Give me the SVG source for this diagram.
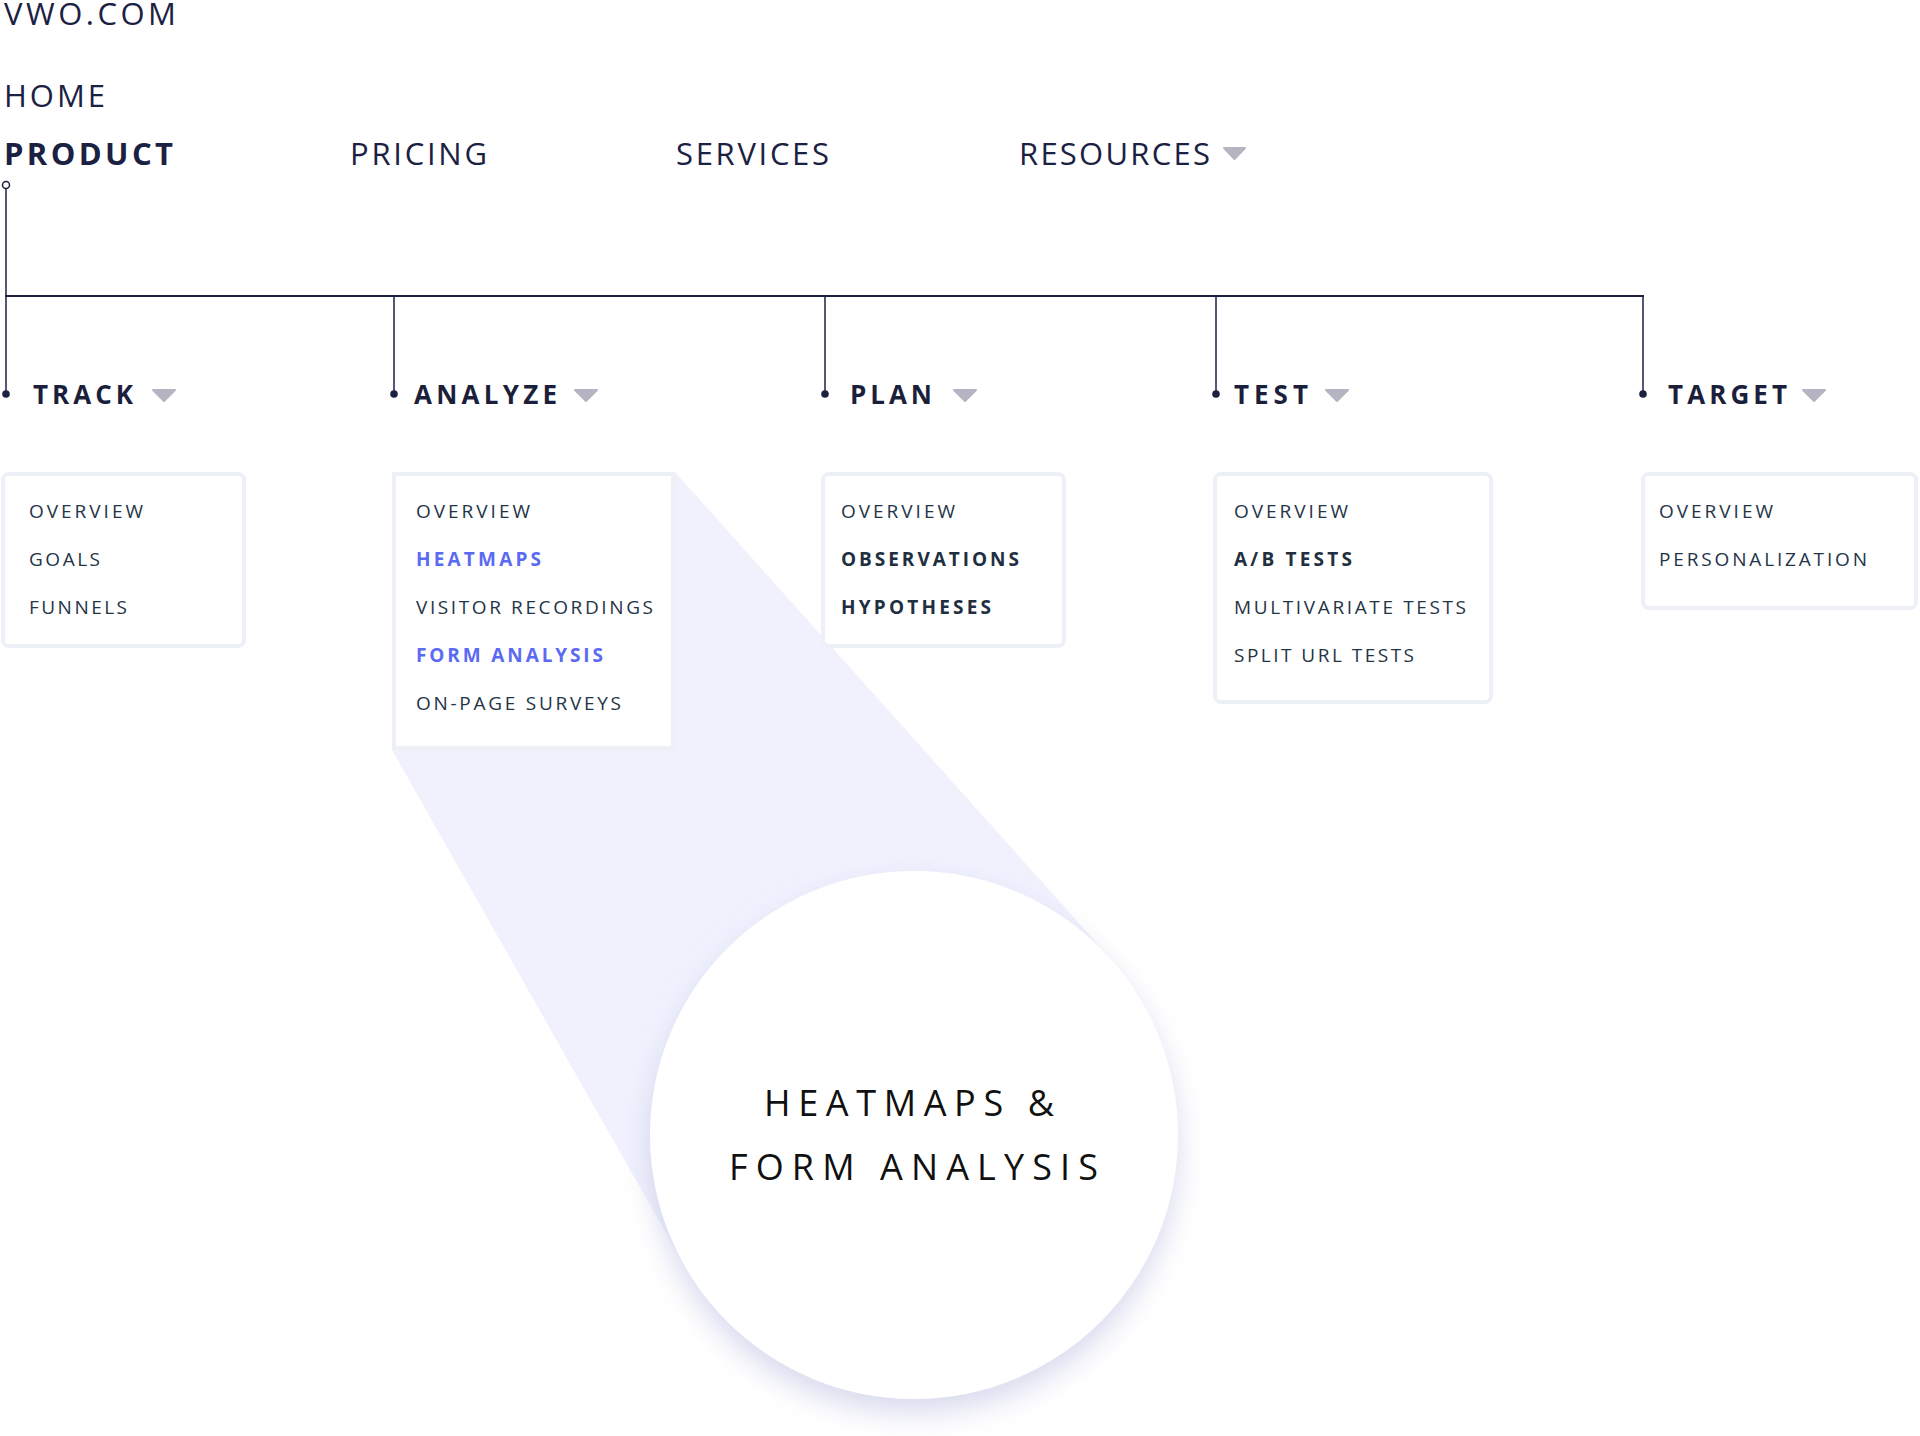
<svg xmlns="http://www.w3.org/2000/svg" width="1920" height="1436" viewBox="0 0 1920 1436">
<style>
text{font-family:"Open Sans","Liberation Sans",sans-serif;}
.nav{font-size:31px;fill:#1b2142;}
.navb{font-size:31px;fill:#1b2142;font-weight:700;}
.head{font-size:26px;fill:#1b1f3b;font-weight:700;}
.item{font-size:19px;fill:#243447;}
.itemb{font-size:19px;fill:#1f2f3f;font-weight:700;}
.itemh{font-size:19px;fill:#5b6af2;font-weight:700;}
.box{fill:#ffffff;stroke:#edf0f7;stroke-width:4;}
.tri{fill:#b5b5c2;stroke:#b5b5c2;stroke-width:2;stroke-linejoin:round;}
.ln{stroke:#1c2140;fill:none;}
.big{font-size:36px;fill:#111111;font-weight:500;}
</style>
<defs>
<filter id="sh" x="-20%" y="-20%" width="140%" height="150%">
<feDropShadow dx="0" dy="14" stdDeviation="14" flood-color="#b9bde0" flood-opacity="0.55"/>
</filter>
</defs>
<rect width="1920" height="1436" fill="#ffffff"/>

<g id="beam">
<polygon points="392,472 675,472 1111,959 914,1135 684,1265 392,750" fill="#f0f1fd"/>
</g>

<g id="header">
<text class="nav" x="4" y="25" textLength="172" lengthAdjust="spacing">VWO.COM</text>
<text class="nav" x="4" y="107" textLength="101" lengthAdjust="spacing">HOME</text>
<text class="navb" x="4" y="165" textLength="169" lengthAdjust="spacing">PRODUCT</text>
<text class="nav" x="350" y="165" textLength="137" lengthAdjust="spacing">PRICING</text>
<text class="nav" x="676" y="165" textLength="153" lengthAdjust="spacing">SERVICES</text>
<text class="nav" x="1019" y="165" textLength="191" lengthAdjust="spacing">RESOURCES</text>
<polygon class="tri" points="1224,148 1245,148 1234.5,159"/>
</g>

<g id="connectors">
<circle cx="6" cy="185" r="3.5" fill="#ffffff" stroke="#1c2140" stroke-width="1.5"/>
<line class="ln" x1="6" y1="189" x2="6" y2="394" stroke-width="1.5"/>
<line class="ln" x1="5" y1="296" x2="1644" y2="296" stroke-width="2"/>
<line class="ln" x1="394" y1="296" x2="394" y2="394" stroke-width="1.5"/>
<line class="ln" x1="825" y1="296" x2="825" y2="394" stroke-width="1.5"/>
<line class="ln" x1="1216" y1="296" x2="1216" y2="394" stroke-width="1.5"/>
<line class="ln" x1="1643" y1="296" x2="1643" y2="394" stroke-width="1.5"/>
<circle cx="6" cy="394" r="3.8" fill="#1c2140"/>
<circle cx="394" cy="394" r="3.8" fill="#1c2140"/>
<circle cx="825" cy="394" r="3.8" fill="#1c2140"/>
<circle cx="1216" cy="394" r="3.8" fill="#1c2140"/>
<circle cx="1643" cy="394" r="3.8" fill="#1c2140"/>
</g>

<g id="track">
<text class="head" x="33" y="404" textLength="100" lengthAdjust="spacing">TRACK</text>
<polygon class="tri" points="153,390 175,390 164,401"/>
<rect class="box" x="3" y="474" width="241" height="172" rx="6"/>
<text class="item" x="29" y="518" textLength="114" lengthAdjust="spacing">OVERVIEW</text>
<text class="item" x="29" y="566" textLength="71" lengthAdjust="spacing">GOALS</text>
<text class="item" x="29" y="614" textLength="98" lengthAdjust="spacing">FUNNELS</text>
</g>

<g id="analyze">
<text class="head" x="414" y="404" textLength="143" lengthAdjust="spacing">ANALYZE</text>
<polygon class="tri" points="575,390 597,390 586,401"/>
<rect class="box" x="394" y="474" width="279" height="274"/>
<text class="item" x="416" y="518" textLength="114" lengthAdjust="spacing">OVERVIEW</text>
<text class="itemh" x="416" y="566" textLength="125" lengthAdjust="spacing">HEATMAPS</text>
<text class="item" x="416" y="614" textLength="237" lengthAdjust="spacing">VISITOR RECORDINGS</text>
<text class="itemh" x="416" y="662" textLength="187" lengthAdjust="spacing">FORM ANALYSIS</text>
<text class="item" x="416" y="710" textLength="205" lengthAdjust="spacing">ON-PAGE SURVEYS</text>
</g>

<g id="plan">
<text class="head" x="850" y="404" textLength="82" lengthAdjust="spacing">PLAN</text>
<polygon class="tri" points="954,390 976,390 965,401"/>
<rect class="box" x="823" y="474" width="241" height="172" rx="6"/>
<text class="item" x="841" y="518" textLength="114" lengthAdjust="spacing">OVERVIEW</text>
<text class="itemb" x="841" y="566" textLength="178" lengthAdjust="spacing">OBSERVATIONS</text>
<text class="itemb" x="841" y="614" textLength="150" lengthAdjust="spacing">HYPOTHESES</text>
</g>

<g id="test">
<text class="head" x="1234" y="404" textLength="74" lengthAdjust="spacing">TEST</text>
<polygon class="tri" points="1326,390 1348,390 1337,401"/>
<rect class="box" x="1215" y="474" width="276" height="228" rx="6"/>
<text class="item" x="1234" y="518" textLength="114" lengthAdjust="spacing">OVERVIEW</text>
<text class="itemb" x="1234" y="566" textLength="118" lengthAdjust="spacing">A/B TESTS</text>
<text class="item" x="1234" y="614" textLength="232" lengthAdjust="spacing">MULTIVARIATE TESTS</text>
<text class="item" x="1234" y="662" textLength="180" lengthAdjust="spacing">SPLIT URL TESTS</text>
</g>

<g id="target">
<text class="head" x="1668" y="404" textLength="119" lengthAdjust="spacing">TARGET</text>
<polygon class="tri" points="1803,390 1825,390 1814,401"/>
<rect class="box" x="1643" y="474" width="273" height="134" rx="6"/>
<text class="item" x="1659" y="518" textLength="114" lengthAdjust="spacing">OVERVIEW</text>
<text class="item" x="1659" y="566" textLength="208" lengthAdjust="spacing">PERSONALIZATION</text>
</g>

<g id="focus">
<circle cx="914" cy="1135" r="264" fill="#ffffff" filter="url(#sh)"/>
<text class="big" x="764" y="1116" textLength="290" lengthAdjust="spacing">HEATMAPS &amp;</text>
<text class="big" x="729" y="1180" textLength="369" lengthAdjust="spacing">FORM ANALYSIS</text>
</g>
</svg>
